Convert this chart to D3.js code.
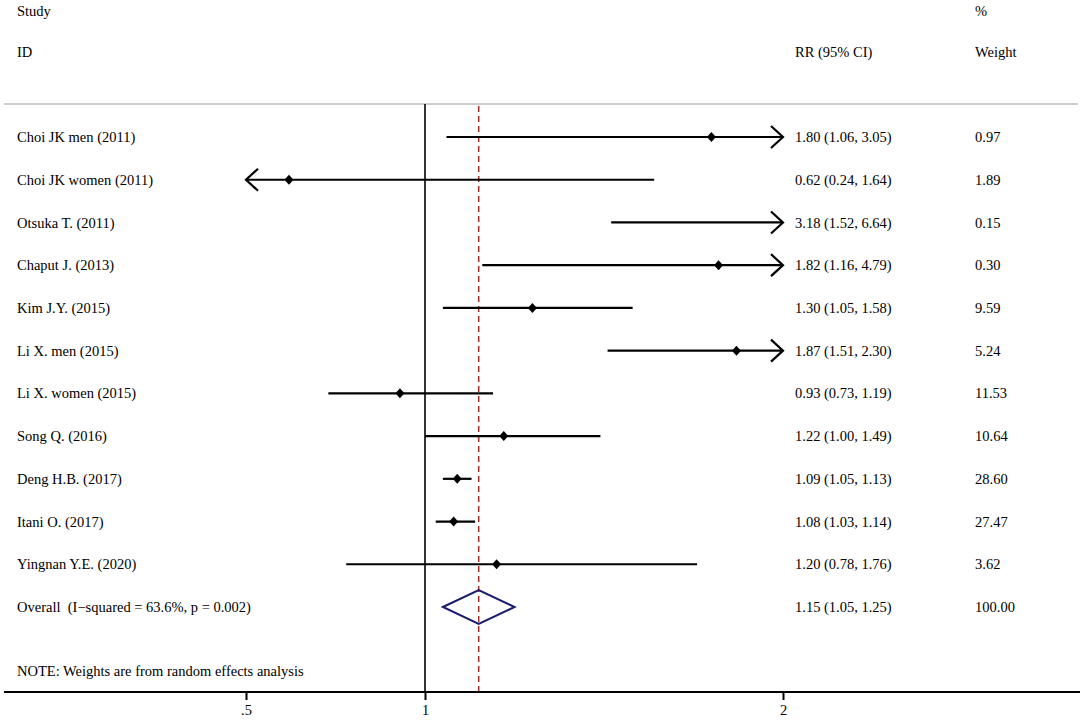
<!DOCTYPE html>
<html lang="en">
<head>
<meta charset="utf-8">
<title>Forest plot</title>
<script src="https://cdn.jsdelivr.net/npm/d3@7"></script>
<style>
body { margin: 0; background: #fff; }
text { font-family: "Liberation Serif", "Times New Roman", serif; font-size: 14.5px; fill: #000; }
.axis text { font-size: 14.5px; }
.axis line { stroke: #000; stroke-width: 2; }
</style>
</head>
<body>
<script>
var w = 1084, h = 725;

// study data
var studies = ["Choi JK men (2011)", "Choi JK women (2011)", "Otsuka T. (2011)", "Chaput J. (2013)",
               "Kim J.Y. (2015)", "Li X. men (2015)", "Li X. women (2015)", "Song Q. (2016)",
               "Deng H.B. (2017)", "Itani O. (2017)", "Yingnan Y.E. (2020)"];
var rr     = [1.80, 0.62, 3.18, 1.82, 1.30, 1.87, 0.93, 1.22, 1.09, 1.08, 1.20];
var lower  = [1.06, 0.24, 1.52, 1.16, 1.05, 1.51, 0.73, 1.00, 1.05, 1.03, 0.78];
var upper  = [3.05, 1.64, 6.64, 4.79, 1.58, 2.30, 1.19, 1.49, 1.13, 1.14, 1.76];
var weights = ["0.97", "1.89", "0.15", "0.30", "9.59", "5.24", "11.53", "10.64", "28.60", "27.47", "3.62"];

// pooled estimate
var overallLabel = "Overall  (I\u2212squared = 63.6%, p = 0.002)";
var overall = [1.15, 1.05, 1.25];
var overallWeight = "100.00";

var xTicks = [0.5, 1, 2];
var xTickLabels = [".5", "1", "2"];

var fmt = d3.format(".2f");

var data = studies.map(function(s, i) {
    return { name: s, i: i, rr: rr[i], lo: lower[i], hi: upper[i], wt: weights[i] };
});

var svg = d3.select("body").append("svg")
    .attr("width", w)
    .attr("height", h);

var xScale = d3.scaleLinear().domain([0.5, 2]).range([246, 783]);
var yScale = d3.scalePoint().domain(d3.range(studies.length + 1)).range([137, 607]);

var headY = 104, axisY = 692;
var labelX = 17, ciX = 795, wX = 975;

// headers
svg.append("text").attr("x", labelX).attr("y", 11).attr("dy", "0.35em").text("Study");
svg.append("text").attr("x", labelX).attr("y", 52).attr("dy", "0.35em").text("ID");
svg.append("text").attr("x", ciX).attr("y", 52).attr("dy", "0.35em").text("RR (95% CI)");
svg.append("text").attr("x", wX).attr("y", 11).attr("dy", "0.35em").text("%");
svg.append("text").attr("x", wX).attr("y", 52).attr("dy", "0.35em").text("Weight");

svg.append("line")
    .attr("x1", 4).attr("x2", 1078)
    .attr("y1", headY).attr("y2", headY)
    .attr("stroke", "#bdbdbd").attr("stroke-width", 1.5);

// null line
svg.append("line")
    .attr("x1", xScale(1)).attr("x2", xScale(1))
    .attr("y1", headY).attr("y2", axisY)
    .attr("stroke", "#000").attr("stroke-width", 1.6);

// overall effect line
svg.append("line")
    .attr("x1", xScale(overall[0])).attr("x2", xScale(overall[0]))
    .attr("y1", headY + 2).attr("y2", axisY)
    .attr("stroke", "#a52a2a").attr("stroke-width", 1.5)
    .attr("stroke-dasharray", "6,4");

var lo = xScale.domain()[0], hi = xScale.domain()[1];

var g = svg.selectAll("g.row")
    .data(data)
    .enter().append("g")
    .attr("class", "row")
    .attr("transform", function(d) { return "translate(0," + yScale(d.i) + ")"; });

g.append("text").attr("x", labelX).attr("dy", "0.35em").text(function(d) { return d.name; });
g.append("text").attr("x", ciX).attr("dy", "0.35em")
    .text(function(d) { return fmt(d.rr) + " (" + fmt(d.lo) + ", " + fmt(d.hi) + ")"; });
g.append("text").attr("x", wX).attr("dy", "0.35em").text(function(d) { return d.wt; });

g.append("line")
    .attr("x1", function(d) { return xScale(Math.max(lo, d.lo)); })
    .attr("x2", function(d) { return xScale(Math.min(hi, d.hi)); })
    .attr("stroke", "#000").attr("stroke-width", 2.2);

// arrows when CI runs off the scale
g.filter(function(d) { return d.hi > hi; })
    .append("path")
    .attr("d", "M" + (xScale(hi) - 12) + ",-11L" + xScale(hi) + ",0L" + (xScale(hi) - 12) + ",11")
    .attr("fill", "none").attr("stroke", "#000").attr("stroke-width", 2.2);
g.filter(function(d) { return d.lo < lo; })
    .append("path")
    .attr("d", "M" + (xScale(lo) + 12) + ",-11L" + xScale(lo) + ",0L" + (xScale(lo) + 12) + ",11")
    .attr("fill", "none").attr("stroke", "#000").attr("stroke-width", 2.2);

// point estimates
g.filter(function(d) { return d.rr <= hi; })
    .append("path")
    .attr("d", function(d) {
        var x = xScale(d.rr);
        return "M" + (x - 4.5) + ",0L" + x + ",-5L" + (x + 4.5) + ",0L" + x + ",5Z";
    })
    .attr("fill", "#000");

// overall row
var oy = yScale(studies.length);
svg.append("text").attr("x", labelX).attr("y", oy).attr("dy", "0.35em")
    .style("white-space", "pre").text(overallLabel);
svg.append("text").attr("x", ciX).attr("y", oy).attr("dy", "0.35em")
    .text(fmt(overall[0]) + " (" + fmt(overall[1]) + ", " + fmt(overall[2]) + ")");
svg.append("text").attr("x", wX).attr("y", oy).attr("dy", "0.35em").text(overallWeight);
svg.append("path")
    .attr("d", "M" + xScale(overall[1]) + "," + oy +
               "L" + xScale(overall[0]) + "," + (oy - 17) +
               "L" + xScale(overall[2]) + "," + oy +
               "L" + xScale(overall[0]) + "," + (oy + 17) + "Z")
    .attr("fill", "none").attr("stroke", "#1a1a6e").attr("stroke-width", 2);

svg.append("text").attr("x", labelX).attr("y", 671).attr("dy", "0.35em")
    .text("NOTE: Weights are from random effects analysis");

// x axis
svg.append("line")
    .attr("x1", 4).attr("x2", 1080)
    .attr("y1", axisY).attr("y2", axisY)
    .attr("stroke", "#000").attr("stroke-width", 2);

var xAxis = d3.axisBottom(xScale)
    .tickValues(xTicks)
    .tickSize(8)
    .tickPadding(5)
    .tickFormat(function(d, i) { return xTickLabels[i]; });

svg.append("g")
    .attr("class", "axis")
    .attr("transform", "translate(0," + axisY + ")")
    .call(xAxis)
    .call(function(a) { a.select(".domain").remove(); });
</script>
</body>
</html>
